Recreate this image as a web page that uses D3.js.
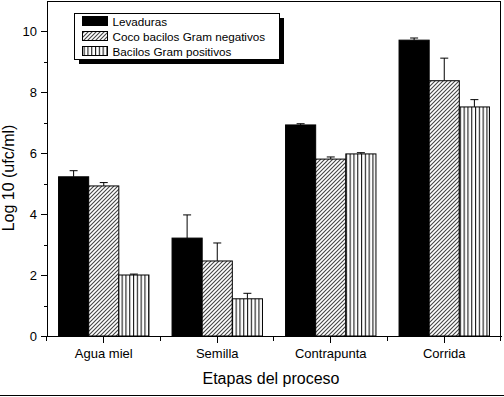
<!DOCTYPE html>
<html>
<head>
<meta charset="utf-8">
<title>Etapas del proceso</title>
<style>
body { margin: 0; background: #fff; }
svg { display: block; font-family: "Liberation Sans", Arial, sans-serif; }
.axis path, .axis line { stroke: #000; stroke-width: 1; shape-rendering: crispEdges; }
.axis text { fill: #000; font-size: 13px; font-family: "Liberation Sans", Arial, sans-serif; }
</style>
</head>
<body>
<svg id="chart" width="504" height="397"></svg>
<script src="https://d3js.org/d3.v7.min.js"></script>
<script>
// datos
const categories = ["Agua miel", "Semilla", "Contrapunta", "Corrida"];
const seriesNames = ["Levaduras", "Coco bacilos Gram negativos", "Bacilos Gram positivos"];
const levaduras = [5.22, 3.21, 6.92, 9.70];
const levadurasErr = [0.20, 0.76, 0.04, 0.07];
const cocoBacilos = [4.92, 2.46, 5.80, 8.37];
const cocoBacilosErr = [0.11, 0.59, 0.07, 0.74];
const bacilosGram = [2.00, 1.22, 5.97, 7.51];
const bacilosGramErr = [0.03, 0.18, 0.04, 0.24];
const yTicks = [0, 2, 4, 6, 8, 10];
const yMinorTicks = [1, 3, 5, 7, 9];

const values = [levaduras, cocoBacilos, bacilosGram];
const errors = [levadurasErr, cocoBacilosErr, bacilosGramErr];
const fills = ["#000", "url(#hatch)", "url(#vstripe)"];

const svg = d3.select("#chart");
const plotLeft = 47, plotRight = 501, plotTop = 1, plotBottom = 336;

const x0 = d3.scaleBand().domain(categories).range([plotLeft, plotRight]).padding(0);
const x1 = d3.scaleBand().domain(seriesNames).range([-45.2, 45.2]);
const y = d3.scaleLinear().domain([0, 11]).range([plotBottom, 0.5]);

// patrones
const defs = svg.append("defs");
const hatch = defs.append("pattern")
  .attr("id", "hatch")
  .attr("patternUnits", "userSpaceOnUse")
  .attr("width", 4).attr("height", 4);
hatch.append("rect").attr("width", 4).attr("height", 4).attr("fill", "#fff");
hatch.append("path")
  .attr("d", "M-1,1 L1,-1 M0,4 L4,0 M3,5 L5,3")
  .attr("stroke", "#444").attr("stroke-width", 1.1);

const vstripe = defs.append("pattern")
  .attr("id", "vstripe")
  .attr("patternUnits", "userSpaceOnUse")
  .attr("width", 3.8).attr("height", 10);
vstripe.append("rect").attr("width", 3.8).attr("height", 10).attr("fill", "#fff");
vstripe.append("line")
  .attr("x1", 0.6).attr("x2", 0.6).attr("y1", 0).attr("y2", 10)
  .attr("stroke", "#000").attr("stroke-width", 1);

// marco superior y derecho
svg.append("line")
  .attr("x1", plotLeft).attr("x2", plotRight).attr("y1", plotTop + 0.5).attr("y2", plotTop + 0.5)
  .attr("stroke", "#000");
svg.append("line")
  .attr("x1", plotRight - 0.5).attr("x2", plotRight - 0.5).attr("y1", plotTop).attr("y2", plotBottom + 5)
  .attr("stroke", "#000");
// borde inferior de la imagen
svg.append("line")
  .attr("x1", 0).attr("x2", 504).attr("y1", 395.5).attr("y2", 395.5)
  .attr("stroke", "#000");

// barras
seriesNames.forEach((s, i) => {
  const g = svg.append("g");
  categories.forEach((c, j) => {
    const cx = x0(c) + x0.bandwidth() / 2;
    const bx = cx + x1(s);
    const bw = x1.bandwidth();
    const v = values[i][j];
    const e = errors[i][j];
    // barra de error (solo superior)
    g.append("line")
      .attr("x1", bx + bw / 2).attr("x2", bx + bw / 2)
      .attr("y1", y(v)).attr("y2", y(v + e))
      .attr("stroke", "#000").attr("stroke-width", 1);
    g.append("line")
      .attr("x1", bx + bw / 2 - 4).attr("x2", bx + bw / 2 + 4)
      .attr("y1", y(v + e)).attr("y2", y(v + e))
      .attr("stroke", "#000").attr("stroke-width", 1);
    g.append("rect")
      .attr("x", bx).attr("y", y(v))
      .attr("width", bw).attr("height", y(0) - y(v))
      .attr("fill", fills[i])
      .attr("stroke", "#000").attr("stroke-width", 1);
  });
});

// eje Y
svg.append("g")
  .attr("class", "axis")
  .attr("transform", `translate(${plotLeft},0)`)
  .call(d3.axisLeft(y).tickValues(yTicks).tickSize(6).tickSizeOuter(0).tickPadding(4));
svg.append("g")
  .attr("class", "axis")
  .attr("transform", `translate(${plotLeft},0)`)
  .call(d3.axisLeft(y).tickValues(yMinorTicks).tickSize(3).tickSizeOuter(0).tickFormat(""))
  .select(".domain").remove();

// eje X
svg.append("g")
  .attr("class", "axis")
  .attr("transform", `translate(0,${plotBottom})`)
  .call(d3.axisBottom(x0).tickSize(7).tickSizeOuter(0).tickPadding(6));
svg.append("g")
  .attr("class", "axis")
  .selectAll("line")
  .data(categories.map(c => x0(c)).concat([plotRight]))
  .join("line")
  .attr("x1", d => Math.round(d) - 0.5).attr("x2", d => Math.round(d) - 0.5)
  .attr("y1", plotBottom).attr("y2", plotBottom + 5);

// titulos de ejes
svg.append("text")
  .attr("x", (plotLeft + plotRight) / 2 - 3).attr("y", 384)
  .attr("text-anchor", "middle")
  .attr("font-size", 16)
  .text("Etapas del proceso");
svg.append("text")
  .attr("transform", "translate(14,178) rotate(-90)")
  .attr("text-anchor", "middle")
  .attr("font-size", 16)
  .text("Log 10 (ufc/ml)");

// leyenda
const legend = svg.append("g");
legend.append("rect")
  .attr("x", 79).attr("y", 18).attr("width", 205).attr("height", 46)
  .attr("fill", "#000");
legend.append("rect")
  .attr("x", 74.5).attr("y", 13.5).attr("width", 205).attr("height", 46)
  .attr("fill", "#fff").attr("stroke", "#000");
seriesNames.forEach((s, i) => {
  legend.append("rect")
    .attr("x", 82.5).attr("y", 16.5 + i * 15)
    .attr("width", 25).attr("height", 9)
    .attr("fill", fills[i]).attr("stroke", "#000");
  legend.append("text")
    .attr("x", 112.5).attr("y", 25.5 + i * 15)
    .attr("font-size", 11.7)
    .text(s);
});
</script>
</body>
</html>
